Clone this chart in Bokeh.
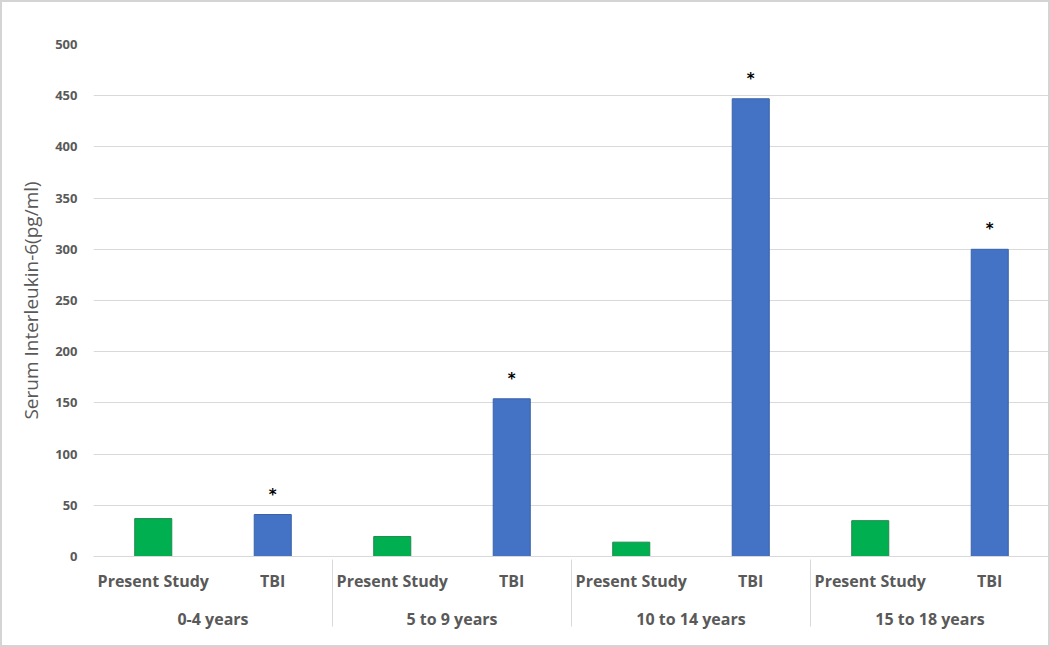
from bokeh.plotting import figure
from bokeh.models import FactorRange, ColumnDataSource, Range1d, FixedTicker, InlineStyleSheet
from bokeh.core.properties import value
from bokeh.embed import file_html
from bokeh.resources import INLINE

age_groups = ["0-4 years", "5 to 9 years", "10 to 14 years", "15 to 18 years"]
series = ["Present Study", "TBI"]
present_study = [37, 19.5, 14, 35]
tbi = [41, 154, 447, 300]
y_ticks = [0, 50, 100, 150, 200, 250, 300, 350, 400, 450, 500]
series_colors = ["#00b050", "#4472c4"]
series_edges = ["#1e8a4c", "#3a62a8"]

factors = [(g, s) for g in age_groups for s in series]
vals = []
cols = []
edges = []
for i, g in enumerate(age_groups):
    vals += [present_study[i], tbi[i]]
    cols += series_colors
    edges += series_edges

src = ColumnDataSource(dict(x=factors, top=vals, color=cols, edge=edges))
star_src = ColumnDataSource(dict(x=[(g, "TBI") for g in age_groups], y=tbi, t=["*"] * len(tbi)))

p = figure(
    width=1050, height=647,
    x_range=FactorRange(*factors, group_padding=0, factor_padding=0, range_padding=0),
    y_range=Range1d(0, 500),
    output_backend="svg", toolbar_location=None,
    min_border_left=93, min_border_right=1, min_border_top=44, min_border_bottom=91,
)
p.stylesheets = [InlineStyleSheet(css="""
:host { position: relative; }
:host::after { content: ""; position: absolute; left: 0; top: 0; right: 0; bottom: 0;
  border: 2px solid #d4d4d4; pointer-events: none; z-index: 1000; box-sizing: border-box; }
""")]

p.vbar(x="x", top="top", width=0.31, source=src, fill_color="color", line_color="edge", line_width=1)
p.text(x="x", y="y", text="t", source=star_src, y_offset=-20,
       text_align="center", text_baseline="middle", text_color="black",
       text_font=value("DejaVu Sans"), text_font_size="15px", text_font_style="bold")

p.outline_line_color = None
p.xgrid.grid_line_color = None
p.ygrid.grid_line_color = "#d9d9d9"
p.ygrid.grid_line_width = 1

p.yaxis.ticker = FixedTicker(ticks=y_ticks)
p.yaxis.axis_line_color = None
p.yaxis.major_tick_line_color = None
p.yaxis.minor_tick_line_color = None
p.yaxis.major_tick_out = 0
p.yaxis.major_tick_in = 0
p.yaxis.major_label_standoff = 16
p.yaxis.major_label_text_font = "Open Sans"
p.yaxis.major_label_text_font_size = "13px"
p.yaxis.major_label_text_font_style = "bold"
p.yaxis.major_label_text_color = "#595959"
p.yaxis.axis_label = "Serum Interleukin-6(pg/ml)"
p.yaxis.axis_label_text_font = "Open Sans"
p.yaxis.axis_label_text_font_size = "19px"
p.yaxis.axis_label_text_font_style = "normal"
p.yaxis.axis_label_text_color = "#595959"
p.yaxis.axis_label_standoff = 8

p.xaxis.axis_line_color = "#d9d9d9"
p.xaxis.major_tick_line_color = None
p.xaxis.minor_tick_line_color = None
p.xaxis.major_tick_out = 0
p.xaxis.major_label_orientation = "horizontal"
p.xaxis.major_label_standoff = 13
p.xaxis.major_label_text_font = "Open Sans"
p.xaxis.major_label_text_font_size = "16px"
p.xaxis.major_label_text_font_style = "bold"
p.xaxis.major_label_text_color = "#595959"
p.xaxis.group_text_font = "Open Sans"
p.xaxis.group_text_font_size = "16px"
p.xaxis.group_text_font_style = "bold"
p.xaxis.group_text_color = "#595959"
p.xaxis.separator_line_color = "#d9d9d9"
p.xaxis.separator_line_width = 1

open("out.html", "w").write(file_html(p, INLINE))
